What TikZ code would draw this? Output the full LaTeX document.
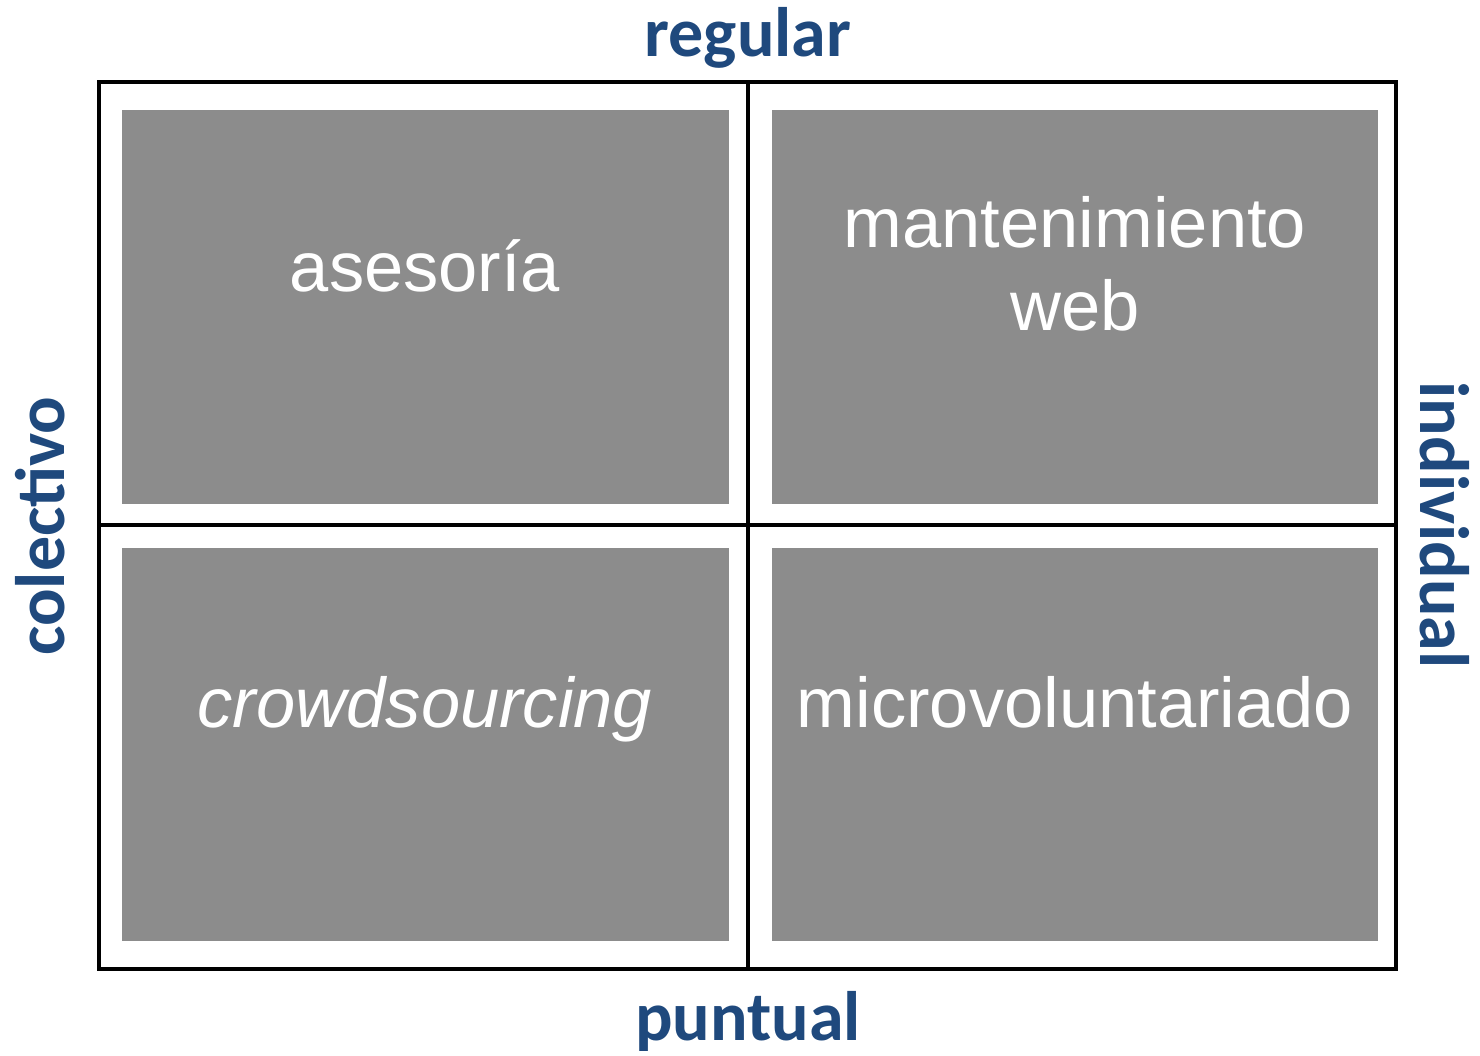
\documentclass[tikz,border=0pt]{standalone}
\usepackage{fontspec}
\setmainfont{Liberation Sans}
\newfontfamily\labfont{Carlito}
\definecolor{boxgray}{HTML}{8C8C8C}
\definecolor{labblue}{HTML}{1F497D}
\begin{document}
\begin{tikzpicture}[x=1pt,y=-1pt,
  frame/.style={line width=3.2pt,black},
  cell/.style={fill=boxgray,draw=none},
  celltext/.style={text=white,font=\fontsize{70.5}{80}\selectfont,anchor=base,inner sep=0pt},
  axislab/.style={text=labblue,font=\labfont\bfseries\fontsize{70}{76}\selectfont,inner sep=0pt}]
\useasboundingbox (0,0) rectangle (1480,1056);
\draw[frame] (99,82) rectangle (1396,969);
\coordinate (top) at (748,82);
\coordinate (bot) at (748,969);
\coordinate (lft) at (99,525);
\coordinate (rgt) at (1396,525);
\draw[frame] (top) -- (bot);
\draw[frame] (lft) -- (rgt);
\fill[cell] (122,110) rectangle (729,504);
\fill[cell] (772,110) rectangle (1378,504);
\fill[cell] (122,548) rectangle (729,941);
\fill[cell] (772,548) rectangle (1378,941);
\node[celltext] (a) at (425,292) {asesoría};
\node[celltext] (m1) at (1075,248) {mantenimiento};
\node[celltext] (m2) at (1075,331) {web};
\node[celltext,font=\itshape\fontsize{70.5}{80}\selectfont] (c) at (425,727) {crowdsourcing};
\node[celltext] (mv) at (1075,727) {microvoluntariado};
\node[axislab] (reg) at (748,38) {regular};
\node[axislab] (pun) at (748,1021) {puntual};
\node[axislab,rotate=90] (col) at (40,526) {colectivo};
\node[axislab,rotate=-90] (ind) at (1445,525) {individual};
\end{tikzpicture}
\end{document}
